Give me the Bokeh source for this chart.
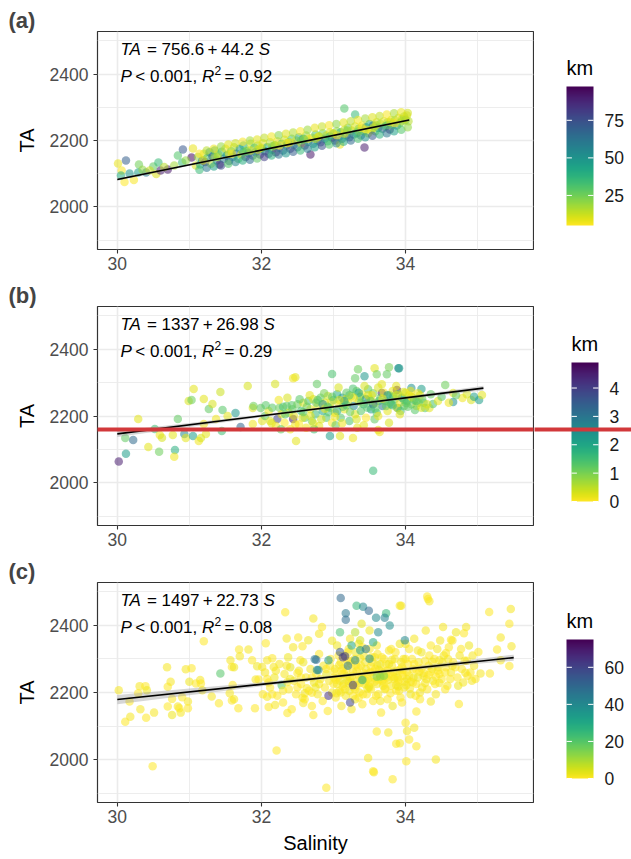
import numpy as np
from bokeh.plotting import figure
from bokeh.models import (ColumnDataSource, LinearColorMapper, FixedTicker,
                          Label, BoxAnnotation, Range1d)
from bokeh.core.properties import value
from bokeh.layouts import column, row
from bokeh.palettes import Viridis256
from bokeh.embed import file_html
from bokeh.resources import INLINE

FONT = "Liberation Sans"

# ---------------- data ----------------
# panel (a): salinity, TA, km
rows_a = [
    (30.01, 2131, 8), (30.12, 2140, 70), (30.06, 2110, 6), (30.10, 2075, 5), (30.23, 2081, 6),
    (30.17, 2101, 50), (30.30, 2128, 25), (30.29, 2104, 45), (30.40, 2104, 60), (30.50, 2122, 28),
    (30.57, 2134, 35), (30.54, 2099, 10), (30.60, 2110, 90), (30.70, 2113, 92), (30.79, 2125, 18),
    (30.84, 2155, 30), (30.91, 2173, 72), (30.90, 2134, 35), (31.05, 2176, 8), (31.03, 2149, 95),
    (31.09, 2125, 10), (30.05, 2095, 40), (30.35, 2112, 20), (30.45, 2110, 12), (30.65, 2120, 15),
    (30.95, 2140, 20),
    (31.12, 2150, 20), (31.15, 2128, 45), (31.18, 2140, 60), (31.20, 2160, 10), (31.22, 2135, 85),
    (31.25, 2148, 30), (31.28, 2165, 50), (31.30, 2130, 15), (31.32, 2152, 70), (31.35, 2170, 40),
    (31.38, 2140, 55), (31.40, 2158, 12), (31.42, 2128, 90), (31.45, 2166, 35), (31.48, 2145, 60),
    (31.50, 2175, 8), (31.52, 2155, 45), (31.55, 2138, 75), (31.58, 2168, 25), (31.60, 2150, 55),
    (31.62, 2180, 15), (31.65, 2160, 65), (31.68, 2145, 30), (31.70, 2175, 50), (31.72, 2158, 10),
    (31.75, 2185, 40), (31.78, 2150, 85), (31.80, 2170, 20), (31.82, 2162, 60), (31.85, 2190, 12),
    (31.88, 2155, 70), (31.90, 2178, 35), (31.92, 2165, 50), (31.95, 2185, 18), (31.98, 2158, 80),
    (32.00, 2175, 30), (32.02, 2192, 10), (32.05, 2168, 55), (32.08, 2180, 40), (32.10, 2160, 75),
    (32.12, 2195, 15), (32.15, 2172, 45), (32.18, 2185, 25), (32.20, 2165, 90), (32.22, 2198, 8),
    (32.25, 2178, 60), (32.28, 2190, 35), (32.30, 2170, 70), (32.32, 2202, 12), (32.35, 2185, 50),
    (32.38, 2195, 20), (32.40, 2175, 80), (32.42, 2205, 30), (32.45, 2188, 55), (32.48, 2200, 10),
    (32.50, 2180, 65), (32.52, 2210, 40), (32.55, 2192, 15), (32.58, 2205, 50), (32.60, 2185, 85),
    (32.62, 2215, 20), (32.65, 2196, 45), (32.68, 2158, 92), (32.70, 2208, 12), (32.72, 2190, 60),
    (32.75, 2218, 30), (32.78, 2200, 50), (32.80, 2212, 8), (32.82, 2195, 75), (32.85, 2222, 25),
    (32.88, 2205, 55), (32.90, 2215, 15), (32.92, 2198, 40), (32.95, 2225, 10), (32.98, 2208, 65),
    (33.00, 2220, 30), (33.02, 2200, 85), (33.05, 2228, 20), (33.08, 2212, 50), (33.09, 2188, 8),
    (33.10, 2225, 35), (33.12, 2205, 60), (33.15, 2296, 30), (33.15, 2232, 12), (33.18, 2215, 45),
    (33.20, 2238, 25), (33.22, 2210, 70), (33.25, 2230, 15), (33.28, 2218, 55), (33.30, 2278, 35),
    (33.30, 2242, 10), (33.32, 2222, 40), (33.35, 2235, 20), (33.38, 2215, 65), (33.40, 2245, 8),
    (33.42, 2228, 30), (33.43, 2179, 90), (33.45, 2240, 50), (33.48, 2222, 15), (33.50, 2250, 40),
    (33.52, 2232, 10), (33.55, 2245, 60), (33.58, 2228, 25), (33.60, 2255, 12), (33.62, 2238, 45),
    (33.65, 2250, 20), (33.68, 2235, 70), (33.70, 2258, 8), (33.72, 2242, 35), (33.75, 2255, 15),
    (33.78, 2233, 88), (33.80, 2262, 10), (33.82, 2248, 30), (33.85, 2260, 18), (33.88, 2245, 55),
    (33.90, 2268, 8), (33.92, 2252, 25), (33.95, 2265, 12), (33.98, 2272, 20), (34.00, 2262, 40),
    (34.02, 2275, 10), (34.04, 2258, 15),
    (31.35, 2150, 20), (31.55, 2160, 10), (31.75, 2165, 35), (31.95, 2172, 12), (32.15, 2182, 22),
    (32.35, 2192, 8), (32.55, 2200, 28), (32.75, 2205, 14), (32.95, 2212, 35), (33.15, 2220, 9),
    (33.35, 2228, 24), (33.55, 2238, 11), (33.75, 2246, 30), (33.95, 2258, 16), (32.25, 2185, 5),
    (32.65, 2205, 6), (33.05, 2215, 5), (33.45, 2232, 7), (33.85, 2252, 6), (31.85, 2170, 9),
    (31.14, 2160, 5), (31.14, 2112, 35), (31.24, 2170, 15), (31.24, 2118, 60), (31.34, 2175, 8),
    (31.34, 2122, 45), (31.44, 2182, 20), (31.44, 2125, 75), (31.54, 2188, 10), (31.54, 2130, 30),
    (31.64, 2192, 12), (31.64, 2135, 55), (31.74, 2196, 6), (31.74, 2140, 40), (31.84, 2200, 18),
    (31.84, 2142, 65), (31.94, 2203, 9), (31.94, 2146, 28), (32.04, 2208, 14), (32.04, 2150, 80),
    (32.14, 2212, 7), (32.14, 2155, 38), (32.24, 2216, 22), (32.24, 2158, 62), (32.34, 2220, 10),
    (32.34, 2162, 48), (32.44, 2224, 16), (32.44, 2166, 70), (32.54, 2228, 5), (32.54, 2170, 35),
    (32.64, 2232, 19), (32.64, 2175, 58), (32.74, 2238, 8), (32.74, 2180, 45), (32.84, 2242, 13),
    (32.84, 2184, 75), (32.94, 2246, 6), (32.94, 2188, 30), (33.04, 2250, 21), (33.04, 2192, 55),
    (33.14, 2254, 9), (33.14, 2196, 40), (33.24, 2258, 15), (33.24, 2200, 65), (33.34, 2262, 7),
    (33.34, 2205, 32), (33.44, 2266, 18), (33.44, 2210, 50), (33.54, 2270, 10), (33.54, 2214, 72),
    (33.64, 2274, 14), (33.64, 2218, 38), (33.74, 2278, 6), (33.74, 2222, 60), (33.84, 2282, 17),
    (33.84, 2228, 45), (33.94, 2285, 8), (33.94, 2232, 30), (34.03, 2283, 12), (34.03, 2240, 20),
    (31.19, 2140, 10), (31.39, 2150, 18), (31.59, 2160, 7), (31.79, 2168, 25), (31.99, 2178, 9),
    (32.19, 2186, 16), (32.39, 2194, 6), (32.59, 2204, 22), (32.79, 2212, 11), (32.99, 2222, 8),
    (33.19, 2230, 20), (33.39, 2238, 6), (33.59, 2246, 14), (33.79, 2256, 9), (33.99, 2264, 12),
]
sal_a = [r[0] for r in rows_a]
ta_a = [r[1] for r in rows_a]
km_a = [r[2] for r in rows_a]

# panel (b)
rows_b = [
    (30.02, 2064, 4.5), (30.12, 2087, 2.2), (30.22, 2128, 3.2), (30.11, 2134, 1.2), (30.29, 2191, 0.2),
    (30.43, 2107, 0.2), (30.52, 2161, 1.5), (30.58, 2093, 1.1), (30.59, 2143, 0.1), (30.62, 2135, 0.3),
    (30.77, 2143, 0.2), (30.80, 2098, 1.8), (30.79, 2078, 0.1), (30.84, 2191, 1.2), (30.93, 2146, 2.6),
    (30.95, 2134, 0.2), (30.99, 2245, 0.3), (31.03, 2248, 1.1), (31.06, 2281, 0.2), (31.05, 2140, 2.2),
    (31.13, 2125, 0.1), (31.16, 2134, 0.3), (31.20, 2251, 0.2), (31.20, 2176, 0.1), (31.27, 2221, 1.2),
    (31.32, 2236, 0.3), (31.23, 2146, 0.2), (31.37, 2191, 0.1), (31.43, 2272, 0.4), (31.46, 2218, 1.3),
    (31.45, 2155, 1.5), (31.53, 2200, 0.2), (31.64, 2209, 2.3), (31.71, 2167, 3.3), (31.81, 2290, 0.3),
    (31.88, 2224, 0.2), (31.89, 2230, 1.1), (31.88, 2176, 0.1), (31.99, 2224, 1.2), (32.01, 2185, 0.2),
    (32.19, 2296, 0.3), (32.47, 2316, 0.2), (32.44, 2313, 0.1), (32.48, 2125, 0.2), (32.22, 2191, 3.9),
    (32.44, 2191, 4.6), (32.77, 2296, 1.2), (32.98, 2326, 1.4), (32.95, 2140, 2.2), (33.09, 2140, 0.2),
    (33.27, 2134, 0.1), (33.34, 2340, 1.1), (33.30, 2313, 1.2), (33.43, 2319, 2.3), (33.57, 2343, 0.2),
    (33.60, 2325, 1.1), (33.74, 2325, 1.2), (33.77, 2346, 1.0), (33.90, 2343, 2.5), (33.88, 2278, 4.8),
    (33.67, 2269, 4.5), (33.55, 2036, 1.6), (33.62, 2158, 0.2), (33.64, 2152, 0.1), (34.08, 2284, 2.4),
    (34.22, 2281, 2.2), (34.27, 2224, 1.3), (34.15, 2230, 0.2), (34.01, 2239, 1.3), (34.55, 2293, 1.1),
    (34.66, 2269, 0.2), (34.79, 2254, 0.1), (34.91, 2248, 0.3), (35.02, 2248, 2.2), (35.06, 2263, 0.2),
    (34.66, 2242, 2.4), (34.33, 2224, 0.2), (34.38, 2236, 1.4), (33.89, 2224, 2.5), (33.91, 2343, 2.3),
    (32.05, 2200, 1.2), (32.10, 2215, 0.1), (32.12, 2185, 0.3), (32.15, 2225, 1.3), (32.20, 2170, 0.1),
    (32.25, 2225, 1.1), (32.28, 2205, 0.2), (32.30, 2228, 1.4), (32.32, 2180, 0.0), (32.35, 2230, 1.2),
    (32.38, 2210, 0.4), (32.40, 2160, 0.1), (32.42, 2232, 1.3), (32.45, 2200, 0.2), (32.50, 2235, 1.1),
    (32.52, 2175, 0.0), (32.55, 2215, 1.5), (32.58, 2240, 0.3), (32.60, 2195, 1.2), (32.62, 2165, 0.1),
    (32.65, 2245, 1.4), (32.68, 2220, 0.2), (32.70, 2185, 1.0), (32.72, 2250, 0.3), (32.75, 2205, 1.6),
    (32.78, 2230, 0.1), (32.80, 2170, 0.2), (32.82, 2255, 1.2), (32.85, 2215, 2.0), (32.88, 2240, 0.3),
    (32.90, 2195, 1.3), (32.92, 2260, 0.4), (32.95, 2225, 1.1), (32.98, 2180, 0.0), (33.00, 2248, 1.5),
    (33.02, 2210, 0.2), (33.05, 2265, 1.8), (33.08, 2235, 0.1), (33.10, 2195, 1.3), (33.12, 2255, 2.3),
    (33.15, 2220, 0.2), (33.18, 2270, 1.2), (33.20, 2240, 0.3), (33.22, 2185, 1.4), (33.25, 2260, 0.1),
    (33.28, 2230, 2.6), (33.30, 2205, 0.2), (33.32, 2275, 1.1), (33.35, 2245, 0.4), (33.38, 2215, 1.3),
    (33.40, 2265, 0.1), (33.42, 2235, 1.7), (33.45, 2195, 0.0), (33.48, 2280, 1.2), (33.50, 2250, 0.3),
    (33.52, 2220, 2.2), (33.55, 2268, 1.0), (33.58, 2240, 0.2), (33.60, 2210, 1.4), (33.62, 2285, 0.3),
    (33.65, 2255, 1.2), (33.68, 2230, 3.0), (33.70, 2270, 0.1), (33.72, 2245, 1.5), (33.75, 2215, 0.2),
    (33.78, 2262, 1.1), (33.80, 2235, 2.4), (33.82, 2275, 0.2), (33.85, 2250, 1.3), (33.88, 2225, 0.4),
    (33.90, 2265, 1.0), (33.92, 2240, 0.1), (33.95, 2255, 2.0), (33.98, 2230, 1.2), (34.00, 2270, 0.2),
    (34.02, 2245, 1.4), (34.05, 2262, 0.3), (34.08, 2235, 1.1), (34.10, 2255, 0.2), (34.15, 2245, 1.5),
    (34.20, 2262, 0.3), (34.25, 2240, 1.2),
    (32.06, 2232, 1.3), (32.14, 2178, 0.2), (32.24, 2248, 0.1), (32.27, 2160, 1.2), (32.33, 2205, 1.4),
    (32.36, 2255, 0.3), (32.43, 2220, 1.2), (32.47, 2175, 0.1), (32.53, 2250, 1.3), (32.57, 2195, 0.2),
    (32.63, 2228, 1.1), (32.67, 2262, 0.2), (32.73, 2160, 1.5), (32.76, 2240, 1.2), (32.83, 2190, 0.3),
    (32.87, 2268, 1.0), (32.93, 2212, 1.4), (32.97, 2242, 0.2), (33.03, 2172, 1.2), (33.07, 2285, 0.3),
    (33.13, 2228, 1.3), (33.17, 2250, 0.1), (33.23, 2212, 1.1), (33.27, 2282, 1.4), (33.33, 2165, 0.2),
    (33.37, 2258, 1.2), (33.43, 2290, 0.3), (33.47, 2225, 1.3), (33.53, 2262, 0.1), (33.57, 2190, 1.2),
    (33.63, 2245, 1.5), (33.67, 2295, 0.2), (33.73, 2230, 1.2), (33.77, 2180, 0.3), (33.83, 2258, 1.1),
    (33.87, 2290, 0.2), (33.93, 2215, 1.4), (33.97, 2272, 0.3), (34.03, 2228, 1.2), (34.07, 2275, 0.1),
    (34.13, 2218, 1.3), (34.17, 2268, 0.2), (34.23, 2252, 1.1), (34.30, 2235, 0.3), (34.35, 2265, 1.2),
    (34.45, 2245, 0.2), (34.50, 2258, 1.3), (34.60, 2240, 0.1), (34.70, 2262, 1.2), (34.85, 2265, 0.3),
    (34.95, 2258, 2.1), (33.45, 2250, 2.4), (33.15, 2245, 2.2), (32.85, 2235, 2.5), (33.75, 2262, 2.3),
    (33.55, 2235, 3.2), (33.35, 2270, 2.0), (33.05, 2215, 1.9),
    (32.58, 2212, 1.2), (32.68, 2200, 0.2), (32.78, 2248, 1.3), (32.88, 2222, 0.1), (32.98, 2258, 1.2),
    (33.08, 2248, 0.3), (33.18, 2232, 1.4), (33.28, 2255, 0.2), (33.38, 2240, 1.1), (33.48, 2262, 0.3),
    (33.58, 2222, 1.3), (33.68, 2252, 0.1), (33.78, 2240, 1.2), (33.88, 2262, 0.2), (33.98, 2248, 1.3),
    (34.08, 2258, 0.2), (34.18, 2240, 1.1), (32.92, 2228, 1.4), (33.22, 2262, 1.3), (33.52, 2245, 1.2),
    (33.82, 2232, 1.4), (34.12, 2248, 1.2), (33.02, 2198, 0.1), (33.32, 2190, 0.3), (33.62, 2200, 0.1),
    (33.92, 2205, 0.2), (34.22, 2225, 0.3), (32.72, 2178, 0.2), (33.12, 2178, 0.1), (33.42, 2172, 0.2),
]
sal_b = [r[0] for r in rows_b]
ta_b = [r[1] for r in rows_b]
km_b = [r[2] for r in rows_b]

# panel (c)
rows_c = [
    # low-salinity part
    (30.02, 2207, 1), (30.11, 2113, 0), (30.18, 2128, 1), (30.17, 2173, 0), (30.31, 2219, 1),
    (30.29, 2198, 0), (30.32, 2150, 1), (30.39, 2219, 0), (30.41, 2207, 2), (30.40, 2125, 0),
    (30.51, 2140, 1), (30.49, 1980, 0), (30.69, 2275, 1), (30.70, 2217, 0), (30.74, 2232, 1),
    (30.70, 2158, 0), (30.76, 2133, 2), (30.76, 2181, 0), (30.84, 2158, 1), (30.86, 2153, 0),
    (30.88, 2140, 1), (30.90, 2186, 0), (30.95, 2269, 1), (31.03, 2272, 0), (30.98, 2173, 1),
    (30.98, 2153, 0), (31.00, 2232, 2), (31.09, 2227, 0), (31.15, 2237, 1), (31.16, 2227, 0),
    (31.18, 2207, 1), (31.20, 2353, 0), (31.31, 2188, 1), (31.43, 2257, 20), (31.41, 2168, 0),
    (31.57, 2296, 1), (31.59, 2276, 0), (31.62, 2275, 2), (31.60, 2222, 0), (31.56, 2198, 1),
    (31.59, 2176, 0), (31.62, 2180, 1), (31.69, 2328, 0), (31.70, 2308, 1), (31.68, 2153, 0),
    (31.82, 2328, 1), (31.87, 2296, 0), (31.92, 2239, 1), (31.91, 2153, 0), (31.94, 2278, 2),
    (31.96, 2239, 0), (32.01, 2276, 1),
    # 32 - 33
    (32.33, 2439, 0), (32.72, 2421, 1), (32.21, 2027, 0), (32.35, 2361, 1), (32.51, 2364, 0),
    (32.65, 2356, 2), (32.57, 2338, 0), (32.44, 2335, 1), (32.28, 2222, 20), (32.06, 2347, 0),
    (32.08, 2296, 1), (32.15, 2302, 0), (32.17, 2276, 1), (32.08, 2240, 0), (32.08, 2187, 1),
    (32.10, 2157, 0), (32.19, 2163, 1), (32.36, 2139, 0), (32.36, 2231, 1), (32.72, 2133, 0),
    (32.37, 2305, 2), (32.54, 2296, 0), (32.63, 2213, 1), (32.50, 2216, 0), (32.57, 2184, 1),
    (32.70, 2199, 0), (32.58, 2169, 1),
    (32.02, 2195, 0), (32.05, 2260, 1), (32.12, 2215, 0), (32.18, 2245, 2), (32.22, 2190, 0),
    (32.25, 2285, 1), (32.30, 2170, 0), (32.32, 2255, 1), (32.38, 2210, 0), (32.40, 2275, 3),
    (32.42, 2150, 0), (32.45, 2235, 1), (32.48, 2195, 0), (32.52, 2265, 1), (32.55, 2225, 0),
    (32.58, 2290, 2), (32.60, 2180, 0), (32.62, 2245, 1), (32.66, 2205, 0), (32.68, 2270, 1),
    (32.70, 2160, 0), (32.73, 2230, 2), (32.76, 2255, 0), (32.78, 2195, 1), (32.80, 2315, 0),
    (32.82, 2240, 1), (32.85, 2175, 0), (32.86, 2280, 1), (32.88, 2215, 0), (32.90, 2255, 3),
    (32.92, 2145, 0), (32.94, 2235, 1), (32.96, 2300, 0), (32.98, 2200, 1),
    (32.10, 2230, 0), (32.20, 2265, 1), (32.30, 2205, 0), (32.40, 2240, 2), (32.50, 2258, 0),
    (32.60, 2198, 1), (32.70, 2245, 0), (32.80, 2225, 1), (32.90, 2270, 0), (33.00, 2245, 1),
    (32.15, 2195, 0), (32.35, 2280, 1), (32.55, 2245, 0), (32.75, 2215, 2), (32.95, 2280, 0),
    # dense 33 - 34
    (33.00, 2225, 0), (33.02, 2270, 1), (33.03, 2185, 0), (33.05, 2340, 2), (33.06, 2245, 0),
    (33.08, 2205, 1), (33.10, 2290, 0), (33.11, 2160, 1), (33.12, 2255, 0), (33.14, 2225, 3),
    (33.15, 2310, 0), (33.17, 2190, 1), (33.18, 2270, 0), (33.20, 2235, 1), (33.21, 2330, 0),
    (33.22, 2205, 2), (33.24, 2285, 0), (33.25, 2150, 1), (33.26, 2250, 0), (33.28, 2215, 1),
    (33.29, 2300, 0), (33.30, 2180, 2), (33.32, 2265, 0), (33.33, 2235, 1), (33.35, 2345, 0),
    (33.36, 2200, 1), (33.38, 2280, 0), (33.39, 2250, 3), (33.40, 2165, 0), (33.42, 2310, 1),
    (33.43, 2225, 0), (33.45, 2270, 1), (33.46, 2195, 0), (33.48, 2240, 2), (33.50, 2330, 0),
    (33.51, 2260, 1), (33.52, 2210, 0), (33.54, 2290, 1), (33.55, 2175, 0), (33.56, 2245, 2),
    (33.58, 2270, 0), (33.60, 2225, 1), (33.61, 2315, 0), (33.62, 2195, 1), (33.64, 2255, 0),
    (33.65, 2285, 3), (33.66, 2140, 0), (33.68, 2235, 1), (33.70, 2300, 0), (33.71, 2210, 1),
    (33.72, 2265, 0), (33.74, 2245, 2), (33.75, 2180, 0), (33.77, 2325, 1), (33.78, 2255, 0),
    (33.80, 2220, 1), (33.81, 2280, 0), (33.82, 2160, 2), (33.84, 2240, 0), (33.85, 2300, 1),
    (33.87, 2205, 0), (33.88, 2265, 1), (33.90, 2230, 0), (33.92, 2345, 2), (33.93, 2185, 0),
    (33.95, 2275, 1), (33.96, 2250, 0), (33.98, 2215, 1), (34.00, 2300, 0),
    (33.01, 2262, 0), (33.04, 2198, 1), (33.07, 2310, 0), (33.09, 2235, 2), (33.13, 2272, 0),
    (33.16, 2210, 1), (33.19, 2295, 0), (33.23, 2245, 1), (33.27, 2190, 0), (33.31, 2320, 2),
    (33.34, 2275, 0), (33.37, 2228, 1), (33.41, 2195, 0), (33.44, 2290, 1), (33.47, 2255, 0),
    (33.49, 2218, 3), (33.53, 2305, 0), (33.57, 2232, 1), (33.59, 2190, 0), (33.63, 2268, 1),
    (33.67, 2305, 0), (33.69, 2220, 2), (33.73, 2285, 0), (33.76, 2238, 1), (33.79, 2198, 0),
    (33.83, 2262, 1), (33.86, 2320, 0), (33.89, 2245, 2), (33.91, 2205, 0), (33.94, 2290, 1),
    (33.97, 2268, 0), (33.99, 2232, 1),
    (33.05, 2225, 1), (33.15, 2255, 0), (33.25, 2230, 2), (33.35, 2250, 0), (33.45, 2235, 1),
    (33.55, 2262, 0), (33.65, 2240, 1), (33.75, 2265, 0), (33.85, 2245, 2), (33.95, 2260, 0),
    (33.10, 2200, 1), (33.30, 2210, 0), (33.50, 2215, 1), (33.70, 2228, 0), (33.90, 2218, 2),
    (33.20, 2320, 1), (33.40, 2335, 0), (33.60, 2340, 1), (33.80, 2330, 0),
    (33.35, 2185, 0), (33.65, 2175, 1), (33.95, 2170, 0),
    (33.03, 2238, 0), (33.08, 2282, 1), (33.13, 2218, 0), (33.18, 2248, 2), (33.22, 2295, 0),
    (33.27, 2262, 1), (33.32, 2222, 0), (33.37, 2302, 1), (33.42, 2258, 0), (33.47, 2212, 2),
    (33.52, 2278, 0), (33.57, 2305, 1), (33.62, 2238, 0), (33.67, 2262, 1), (33.72, 2212, 0),
    (33.77, 2285, 2), (33.82, 2248, 0), (33.87, 2222, 1), (33.92, 2268, 0), (33.97, 2300, 1),
    (33.11, 2265, 0), (33.21, 2228, 1), (33.31, 2282, 0), (33.41, 2240, 1), (33.51, 2232, 0),
    (33.61, 2282, 1), (33.71, 2248, 0), (33.81, 2298, 1), (33.91, 2238, 0),
    # 34 - 35
    (34.02, 2240, 1), (34.05, 2330, 0), (34.07, 2195, 2), (34.10, 2270, 0), (34.12, 2360, 1),
    (34.15, 2225, 0), (34.18, 2290, 1), (34.20, 2180, 0), (34.22, 2320, 2), (34.25, 2250, 0),
    (34.28, 2385, 1), (34.30, 2210, 0), (34.32, 2280, 1), (34.35, 2340, 0), (34.38, 2235, 2),
    (34.40, 2300, 0), (34.42, 2195, 1), (34.45, 2265, 0), (34.48, 2355, 1), (34.50, 2240, 0),
    (34.53, 2310, 2), (34.56, 2275, 0), (34.58, 2220, 1), (34.60, 2335, 0), (34.63, 2260, 1),
    (34.66, 2290, 0), (34.70, 2380, 2), (34.72, 2245, 0), (34.75, 2310, 1), (34.78, 2270, 0),
    (34.80, 2230, 1), (34.85, 2295, 0), (34.88, 2340, 2), (34.90, 2260, 0), (34.95, 2280, 1),
    (34.03, 2285, 0), (34.06, 2212, 1), (34.09, 2300, 0), (34.11, 2245, 2), (34.14, 2190, 0),
    (34.17, 2325, 1), (34.19, 2262, 0), (34.23, 2215, 1), (34.27, 2295, 0), (34.29, 2240, 1),
    (34.33, 2310, 0), (34.37, 2270, 2), (34.41, 2225, 0), (34.44, 2330, 1), (34.47, 2255, 0),
    (34.51, 2290, 1), (34.55, 2210, 0), (34.59, 2300, 1), (34.62, 2240, 0), (34.65, 2355, 1),
    (34.69, 2275, 0), (34.73, 2220, 2), (34.77, 2330, 0), (34.82, 2295, 1), (34.86, 2250, 0),
    (34.93, 2310, 1), (34.97, 2240, 0),
    (34.05, 2250, 1), (34.15, 2268, 0), (34.25, 2258, 1), (34.35, 2262, 0), (34.45, 2275, 1),
    (34.55, 2260, 0), (34.65, 2280, 1), (34.10, 2230, 0), (34.00, 2345, 1), (34.20, 2200, 1),
    (34.02, 2262, 0), (34.07, 2232, 1), (34.12, 2285, 0), (34.17, 2245, 2), (34.22, 2272, 0),
    (34.27, 2228, 1), (34.32, 2252, 0), (34.37, 2292, 1), (34.42, 2248, 0), (34.47, 2228, 1),
    (34.01, 2222, 1),
    # green / teal / blue points (far from the coast)
    (33.10, 2482, 50), (33.32, 2459, 25), (33.41, 2456, 40), (33.49, 2444, 50), (33.17, 2436, 45),
    (33.17, 2417, 48), (33.73, 2436, 25), (33.59, 2423, 40), (33.71, 2423, 42), (33.78, 2400, 38),
    (33.09, 2380, 22), (33.39, 2405, 3), (33.50, 2385, 2), (33.62, 2380, 40), (33.23, 2360, 1),
    (33.37, 2356, 5), (33.99, 2356, 40), (33.94, 2459, 1), (34.31, 2479, 0), (34.33, 2472, 1),
    (32.80, 2375, 1), (32.84, 2395, 0), (32.98, 2354, 2), (33.09, 2321, 55), (32.76, 2298, 50),
    (32.79, 2267, 40), (32.93, 2296, 35), (33.16, 2308, 60), (33.30, 2296, 40), (33.37, 2326, 35),
    (33.50, 2301, 38), (33.27, 2222, 62), (33.40, 2237, 30), (33.60, 2247, 15), (33.65, 2248, 12),
    (33.70, 2250, 14), (33.23, 2170, 60), (32.93, 2190, 65), (33.13, 2305, 62), (33.25, 2340, 30),
    (33.45, 2330, 45), (33.30, 2380, 8), (33.55, 2350, 30), (33.20, 2280, 45), (32.74, 2299, 45),
    (32.77, 2267, 40),
    # low outliers
    (32.90, 1916, 0), (33.56, 1962, 1), (33.82, 1941, 0), (33.48, 2005, 1), (33.60, 2084, 0),
    (33.76, 2081, 1), (33.87, 2047, 0), (33.92, 2049, 1), (34.00, 2110, 0), (34.02, 2085, 1),
    (34.05, 2060, 0), (34.12, 2095, 1), (34.15, 2040, 0), (34.42, 2000, 1), (34.01, 1995, 0),
    (34.35, 2173, 1), (34.15, 2143, 0), (33.55, 1965, 0),
    # high-salinity part
    (35.16, 2440, 0), (35.46, 2449, 1), (35.44, 2405, 0), (35.32, 2364, 1), (35.27, 2328, 0),
    (35.47, 2338, 1), (35.44, 2279, 0), (35.32, 2296, 1), (35.01, 2321, 0), (35.04, 2257, 1),
    (35.17, 2257, 0), (34.92, 2235, 1), (34.74, 2166, 0), (34.83, 2259, 1), (34.63, 2357, 0),
    (34.52, 2395, 1), (34.81, 2377, 0), (34.84, 2395, 1), (34.56, 2318, 0), (34.47, 2296, 1),
    (34.30, 2486, 0), (33.92, 2459, 1),
]
sal_c = [r[0] for r in rows_c]
ta_c = [r[1] for r in rows_c]
km_c = [r[2] for r in rows_c]

# regression fits printed on the chart
intercepts = [756.6, 1337, 1497]
slopes = [44.2, 26.98, 22.73]
intercept_txt = ["756.6", "1337", "1497"]
slope_txt = ["44.2", "26.98", "22.73"]
r2_txt = ["0.92", "0.29", "0.08"]
fit_x = [[30.0, 34.05], [30.0, 35.08], [30.0, 35.5]]
# confidence ribbon half widths (TA units)
rib_x = [[30.0, 32.0, 34.05], [30.0, 31.0, 32.0, 33.0, 34.0, 35.08],
         [30.0, 31.0, 32.0, 33.0, 34.0, 35.0, 35.5]]
rib_hw = [[4, 2, 3], [9, 6, 4, 3, 4, 7], [14, 10, 6, 4, 5, 7, 9]]

tags = ["(a)", "(b)", "(c)"]
cbar_title = "km"
cbar_low = [5, 0, 0]
cbar_high = [97.5, 4.9, 75]
cbar_ticks = [[25, 50, 75], [0, 1, 2, 3, 4], [0, 20, 40, 60]]
x_ticks = [30, 32, 34]
x_minor = [31, 33, 35]
y_ticks = [2000, 2200, 2400]
y_minor = [1900, 2100, 2300, 2500]

# ---------------- helpers ----------------
AW = {' ': 278, '=': 584, '+': 584, '<': 584, '.': 278, ',': 278, '\u2009': 200,
      'T': 611, 'A': 667, 'S': 667, 'P': 667, 'R': 722}


def tw(s, fs):
    return sum(AW.get(c, 556) for c in s) * fs / 1000.0


def add_runs(p, x0, y, runs, fs):
    """runs: (text, style, gap_after_in_em)"""
    x = x0
    for txt, style, gap in runs:
        size = fs
        dy = 0
        fstyle = "normal"
        if style == "i":
            fstyle = "italic"
        if style == "sup":
            size = round(fs * 0.7)
            dy = fs * 0.38
        p.add_layout(Label(x=x, y=y + dy, x_units="screen", y_units="screen", text=txt,
                           text_font=FONT, text_font_size=f"{size}px", text_font_style=fstyle,
                           text_baseline="middle", text_align="left", text_color="black"))
        x += tw(txt, size) + gap * fs


GRID = "#EBEBEB"
TICK_FS = "17.5px"
MAIN_W = 534
SIDE_W = 631 - MAIN_W


def make_panel(i, sal, ta, km, height, top, bottom, last=False):
    frame_h = height - top - bottom
    p = figure(width=MAIN_W, height=height, x_range=Range1d(29.725, 35.775),
               y_range=Range1d(1872, 2528), output_backend="svg", toolbar_location=None,
               min_border_left=97, min_border_right=MAIN_W - 533, min_border_top=top,
               min_border_bottom=bottom, background_fill_color="white",
               border_fill_color="white")
    p.outline_line_color = "#333333"
    p.outline_line_width = 1.2

    p.title.text = tags[i]
    p.title.text_font = FONT
    p.title.text_font_size = "22px"
    p.title.text_font_style = "bold"
    p.title.align = "left"
    p.title.offset = -89
    p.title.standoff = -3

    p.xaxis.ticker = FixedTicker(ticks=x_ticks, minor_ticks=x_minor)
    p.yaxis.ticker = FixedTicker(ticks=y_ticks, minor_ticks=y_minor)
    for g in (p.xgrid, p.ygrid):
        g.grid_line_color = GRID
        g.grid_line_width = 1.6
        g.minor_grid_line_color = GRID
        g.minor_grid_line_width = 0.9
    for ax in (p.xaxis, p.yaxis):
        ax.axis_line_color = None
        ax.major_tick_line_color = "#333333"
        ax.major_tick_line_width = 1.1
        ax.major_tick_out = 4
        ax.major_tick_in = 0
        ax.minor_tick_line_color = None
        ax.major_label_text_font = FONT
        ax.major_label_text_font_size = TICK_FS
        ax.major_label_text_color = "#4D4D4D"
        ax.axis_label_text_font = FONT
        ax.axis_label_text_font_size = "20px"
        ax.axis_label_text_font_style = "normal"
        ax.axis_label_text_color = "black"
    p.xaxis.major_label_standoff = 3
    p.yaxis.major_label_standoff = 5
    p.yaxis.axis_label = "TA"
    p.yaxis.axis_label_standoff = 9
    if last:
        p.xaxis.axis_label = "Salinity"
        p.xaxis.axis_label_standoff = 6

    mapper = LinearColorMapper(palette=list(reversed(Viridis256)),
                               low=cbar_low[i], high=cbar_high[i])
    src = ColumnDataSource(dict(s=sal, ta=ta, km=km))
    p.scatter("s", "ta", source=src, size=8.5, line_color=None, fill_alpha=0.55,
              fill_color={"field": "km", "transform": mapper})

    # ribbon + fit line
    rx = rib_x[i]
    fit_mid = [intercepts[i] + slopes[i] * x for x in rx]
    p.varea(x=rx, y1=[m - h for m, h in zip(fit_mid, rib_hw[i])],
            y2=[m + h for m, h in zip(fit_mid, rib_hw[i])], fill_color="#999999",
            fill_alpha=0.4)
    fx = fit_x[i]
    p.line(fx, [intercepts[i] + slopes[i] * x for x in fx], line_color="black", line_width=1.6)

    # equation texts
    fs = 17
    add_runs(p, 23, frame_h - 18,
             [("TA", "i", 0.278),
              (f"= {intercept_txt[i]}\u2009+\u2009{slope_txt[i]}", "n", 0.278),
              ("S", "i", 0)], fs)
    add_runs(p, 23, frame_h - 45,
             [("P", "i", 0.2), ("< 0.001,", "n", 0.278), ("R", "i", 0.02),
              ("2", "sup", 0.2), (f"= {r2_txt[i]}", "n", 0)], fs)
    return p, mapper


def make_colorbar(i, mapper, height, top, bottom, bar_left, bar_top, bar_len=139, bar_w=27):
    """Colour bar drawn in its own narrow figure.
    y data = height - (pixel row inside this figure), x data = pixel column."""
    s = figure(width=SIDE_W, height=height, x_range=Range1d(0, SIDE_W),
               y_range=Range1d(bottom, height - top), x_axis_type=None, y_axis_type=None,
               toolbar_location=None, output_backend="svg", min_border_left=0,
               min_border_right=0, min_border_top=top, min_border_bottom=bottom,
               outline_line_color=None, background_fill_color="white",
               border_fill_color="white")
    lo, hi = cbar_low[i], cbar_high[i]
    y0 = height - bar_top - bar_len
    grad = np.linspace(lo, hi, 256).reshape(256, 1)
    s.image(image=[grad], x=bar_left, y=y0, dw=bar_w, dh=bar_len, color_mapper=mapper)
    ty = [y0 + (t - lo) / (hi - lo) * bar_len for t in cbar_ticks[i]]
    tl = bar_w / 5.0
    s.segment(x0=[bar_left] * len(ty), y0=ty, x1=[bar_left + tl] * len(ty), y1=ty,
              line_color="white", line_width=1)
    s.segment(x0=[bar_left + bar_w - tl] * len(ty), y0=ty, x1=[bar_left + bar_w] * len(ty),
              y1=ty, line_color="white", line_width=1)
    s.text(x=[bar_left + bar_w + 11] * len(ty), y=ty, text=[str(t) for t in cbar_ticks[i]],
           text_font=value(FONT), text_font_size="17.5px", text_color="#1A1A1A",
           text_baseline="middle", text_align="left")
    s.text(x=[bar_left], y=[y0 + bar_len + 19], text=[cbar_title], text_font=value(FONT),
           text_font_size="20px", text_color="black", text_baseline="middle",
           text_align="left")
    return s


pa, ma = make_panel(0, sal_a, ta_a, km_a, 277, 31, 28)
pb, mb = make_panel(1, sal_b, ta_b, km_b, 277, 29, 29)
pc, mc = make_panel(2, sal_c, ta_c, km_c, 305, 28, 57, last=True)

sa = make_colorbar(0, ma, 277, 31, 28, 566 - MAIN_W, 86)
sb = make_colorbar(1, mb, 277, 29, 29, 571 - MAIN_W, 85)
sc = make_colorbar(2, mc, 305, 28, 57, 566 - MAIN_W, 85)

# red horizontal marker line across panel (b) and its side strip
hb = 277 - 29 - 29
pb.add_layout(BoxAnnotation(left=-120, right=620, bottom=hb - 125, top=hb - 121,
                            left_units="screen", right_units="screen",
                            bottom_units="screen", top_units="screen",
                            fill_color="#D2383B", fill_alpha=1.0, line_color=None,
                            level="overlay"))
sb.add_layout(BoxAnnotation(left=-40, right=SIDE_W + 5, bottom=277 - 154, top=277 - 150,
                            fill_color="#D2383B", fill_alpha=1.0, line_color=None,
                            level="overlay"))

layout = column(row(pa, sa, spacing=0), row(pb, sb, spacing=0), row(pc, sc, spacing=0),
                spacing=0)
open("out.html", "w").write(file_html(layout, INLINE))
